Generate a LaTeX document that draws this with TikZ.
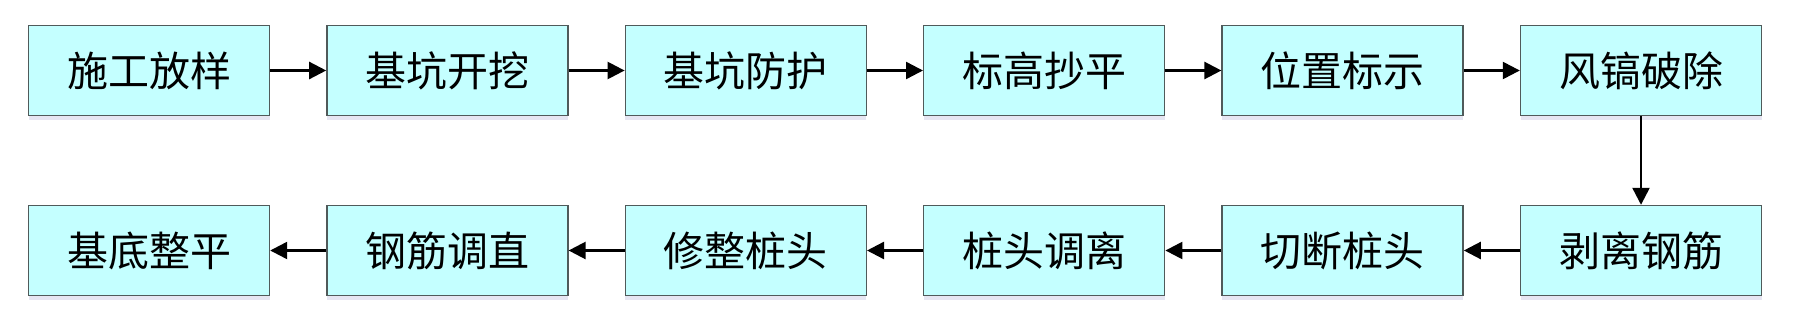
\documentclass[tikz,border=0pt]{standalone}
\usepackage{fontspec}
\newfontfamily\cjk{Noto Sans CJK SC}
\usetikzlibrary{
    arrows.meta,
    positioning,
    shadows
}

\definecolor{boxfill}{HTML}{C4FFFF}
\definecolor{boxline}{HTML}{505A5A}

\tikzset{
    stepbox/.style={draw=boxline, line width=1.4pt, fill=boxfill,
        minimum width=241pt, minimum height=90pt, inner sep=0pt,
        font=\cjk\fontsize{41}{43}\selectfont,
        drop shadow={shadow xshift=0pt, shadow yshift=-4pt,
            fill=blue!30!gray, opacity=0.15}},
    flow/.style={-{Triangle[length=17pt,width=17pt]}, line width=2.4pt}
}

\begin{document}
\begin{tikzpicture}[x=1pt,y=1pt, node distance=56pt]

\useasboundingbox (0,0) rectangle (1798,333);

% Top row, left to right
\node[stepbox] (s1) at (149,262.5) {施工放样};
\node[stepbox, right=of s1] (s2) {基坑开挖};
\node[stepbox, right=of s2] (s3) {基坑防护};
\node[stepbox, right=of s3] (s4) {标高抄平};
\node[stepbox, right=of s4] (s5) {位置标示};
\node[stepbox, right=of s5] (s6) {风镐破除};

% Bottom row, right to left
\node[stepbox, below=88.6pt of s6] (s7) {剥离钢筋};
\node[stepbox, left=of s7] (s8) {切断桩头};
\node[stepbox, left=of s8] (s9) {桩头调离};
\node[stepbox, left=of s9] (s10) {修整桩头};
\node[stepbox, left=of s10] (s11) {钢筋调直};
\node[stepbox, left=of s11] (s12) {基底整平};

% Connectors
\foreach \a/\b in {s1/s2,s2/s3,s3/s4,s4/s5,s5/s6,s6/s7,s7/s8,s8/s9,s9/s10,s10/s11,s11/s12}
    \draw[flow] (\a) -- (\b);

\end{tikzpicture}
\end{document}
